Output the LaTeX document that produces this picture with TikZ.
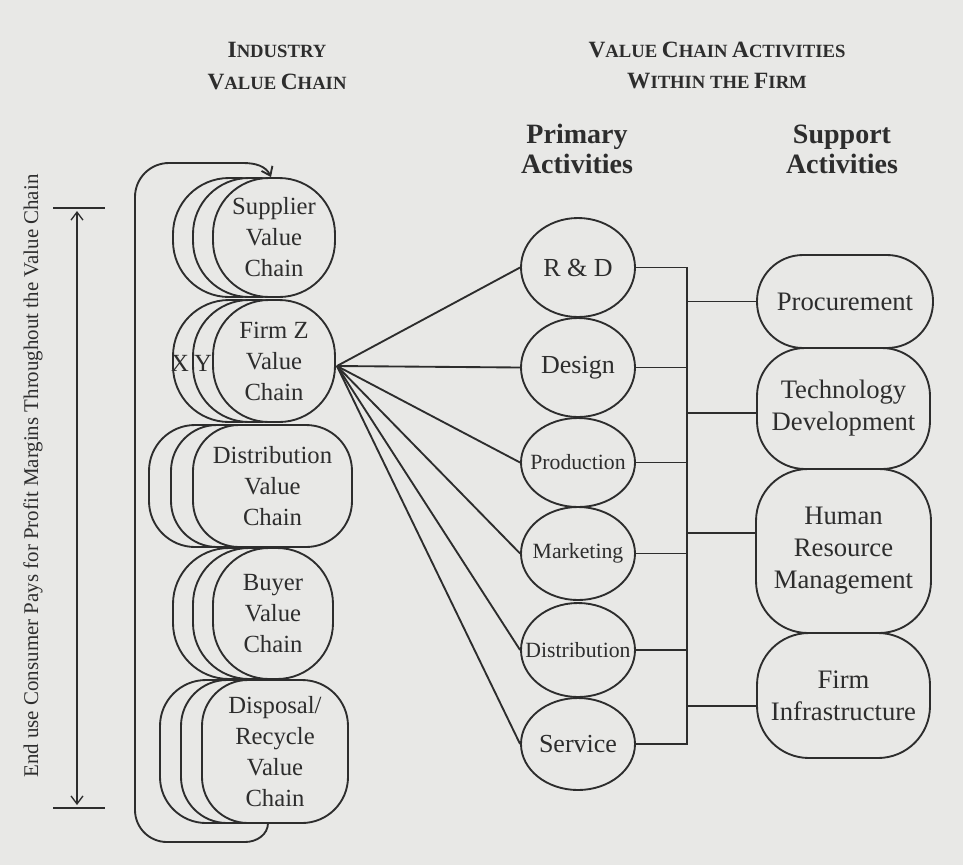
\documentclass[tikz,border=0pt]{standalone}
\usepackage{fontspec}
\setmainfont{Liberation Serif}
\usetikzlibrary{arrows.meta,shapes.geometric,calc}
\definecolor{paper}{RGB}{232,232,230}
\definecolor{ink}{RGB}{45,45,45}
\newcommand\fsc[2]{{\fontsize{17.5}{20}\selectfont #1}{\fontsize{14}{20}\selectfont #2}}
\newcommand\vcfont{\fontsize{18.5}{23.25}\selectfont}
\newcommand\spfont{\fontsize{20}{24}\selectfont}
\newcommand\vcstack[8]{%
  \node[vcb, minimum width=#4*0.75pt, minimum height=#5*0.75pt, rounded corners=#6*0.75pt] (#1-b) at ({#2-2*#7},#3) {};
  \node[vcb, minimum width=#4*0.75pt, minimum height=#5*0.75pt, rounded corners=#6*0.75pt] (#1-a) at ({#2-#7},#3) {};
  \node[vcb, minimum width=#4*0.75pt, minimum height=#5*0.75pt, rounded corners=#6*0.75pt, font=\vcfont] (#1) at (#2,#3) {#8};
}
\begin{document}
\begin{tikzpicture}[x=0.75pt,y=-0.75pt,line width=1.4pt,draw=ink,text=ink,
  vcb/.style={draw=ink,fill=paper,inner sep=0pt,align=center},
  act/.style={ellipse,draw=ink,fill=paper,inner sep=0pt,minimum width=114*0.75pt},
  big/.style={font=\fontsize{19.5}{22}\selectfont},
  small/.style={font=\fontsize{16.3}{20}\selectfont},
  sup/.style={draw=ink,fill=paper,inner sep=0pt,align=center,font=\spfont},
  head/.style={font=\fontsize{14}{20}\selectfont\bfseries},
  subhead/.style={font=\fontsize{21}{22.5}\selectfont\bfseries,align=center}]
\fill[paper] (0,0) rectangle (963,865);
\useasboundingbox (0,0) rectangle (963,865);

% headings
\node[head] (h1) at (277,50) {\fsc{I}{NDUSTRY}};
\node[head] (h2) at (277,82) {\fsc{V}{ALUE} \fsc{C}{HAIN}};
\node[head] (h3) at (717,50) {\fsc{V}{ALUE} \fsc{C}{HAIN} \fsc{A}{CTIVITIES}};
\node[head] (h4) at (717,81) {\fsc{W}{ITHIN} {\fontsize{14}{20}\selectfont THE} \fsc{F}{IRM}};
\node[subhead] (h5) at (577,149) {Primary\\Activities};
\node[subhead] (h6) at (842,149) {Support\\Activities};

% left double arrow and rotated text
\coordinate (bt) at (77,208);
\coordinate (bb) at (77,808);
\draw (53,208) -- (105,208);
\draw (53,808) -- (105,808);
\draw[line width=1pt,{Straight Barb[length=6pt,width=9pt]}-{Straight Barb[length=6pt,width=9pt]}] ($(bt)+(0,3)$) -- ($(bb)+(0,-3)$);
\node[rotate=90,font=\fontsize{15.7}{18}\selectfont] (pays) at (33,476)
  {End use Consumer Pays for Profit Margins Throughout the Value Chain};

% industry value chain stacks
\vcstack{supl}{274}{237.5}{122}{119}{56}{20}{Supplier\\Value\\Chain}
\vcstack{firmz}{274}{361}{122}{122}{56}{20}{Firm Z\\Value\\Chain}
\vcstack{dist}{272.5}{486}{159}{122}{46}{22}{Distribution\\Value\\Chain}
\vcstack{buyer}{273}{613.5}{120}{131}{56}{20}{Buyer\\Value\\Chain}
\vcstack{disp}{275}{751.5}{146}{143}{46}{21}{Disposal/\\Recycle\\Value\\Chain}
\node[font=\vcfont] (xl) at (180,363) {X};
\node[font=\vcfont] (yl) at (203,363) {Y};

% loop arrow
\coordinate (ls) at (268,823);
\draw[-{Straight Barb[length=6pt,width=9pt]}] (ls) to[out=-90,in=0] (245,842) -- (167,842)
  to[out=180,in=-90] (135,810) -- (135,197) to[out=90,in=180] (169,163) -- (243,163)
  to[out=0,in=115] ($(supl.north)+(-3,0)$);

% primary activities
\node[act,big,minimum height=99*0.75pt] (rd) at (578,267.5) {\makebox[0pt]{R \& D}};
\node[act,big,minimum height=99*0.75pt] (dsg) at (578,367.5) {\makebox[0pt]{Design}};
\node[act,small,minimum height=89*0.75pt] (prod) at (578,462.5) {\makebox[0pt]{Production}};
\node[act,small,minimum height=93*0.75pt] (mkt) at (578,553.5) {\makebox[0pt]{Marketing}};
\node[act,small,minimum height=94*0.75pt] (dst) at (578,650) {\makebox[0pt]{Distribution}};
\node[act,big,minimum height=92*0.75pt] (srv) at (578,744) {\makebox[0pt]{Service}};

\coordinate (fan) at ($(firmz.east)+(1,5)$);
\foreach \n in {rd,dsg,prod,mkt,dst,srv} \draw (fan) -- (\n.west);

% support activities
\node[sup,minimum width=176*0.75pt,minimum height=93*0.75pt,rounded corners=46*0.75pt] (proc) at (845,301.5) {Procurement};
\node[sup,minimum width=173*0.75pt,minimum height=121*0.75pt,rounded corners=48*0.75pt] (tech) at (843.5,408.5) {Technology\\Development};
\node[sup,minimum width=175*0.75pt,minimum height=164*0.75pt,rounded corners=52*0.75pt] (hrm) at (843.5,551) {Human\\Resource\\Management};
\node[sup,minimum width=173*0.75pt,minimum height=125*0.75pt,rounded corners=52*0.75pt] (infra) at (843.5,695.5) {Firm\\Infrastructure};

% bus
\coordinate (bus) at (687,0);
\draw (rd.east) -- (rd.east -| bus) -- (srv.east -| bus) -- (srv.east);
\foreach \n in {dsg,prod,mkt,dst} \draw (\n.east) -- (\n.east -| bus);
\coordinate (s1) at (687,301.5);
\coordinate (s2) at (687,413);
\coordinate (s3) at (687,533);
\coordinate (s4) at (687,706);
\draw (s1) -- (s1 -| proc.west);
\draw (s2) -- (s2 -| tech.west);
\draw (s3) -- (s3 -| hrm.west);
\draw (s4) -- (s4 -| infra.west);
\end{tikzpicture}
\end{document}
